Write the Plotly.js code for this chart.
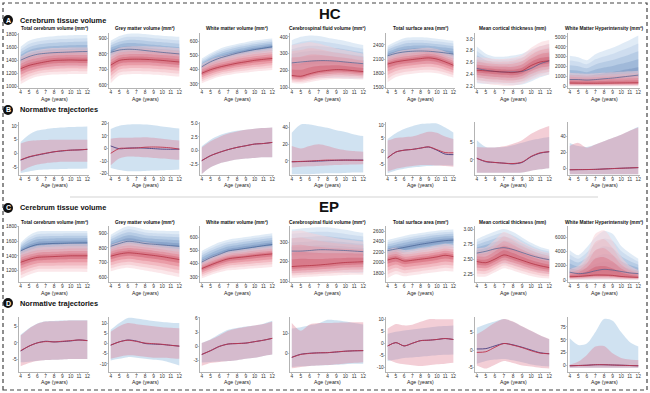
<!DOCTYPE html>
<html><head><meta charset="utf-8">
<script src="https://cdn.plot.ly/plotly-3.0.1.min.js"></script>
<style>html,body{margin:0;padding:0;background:#fff}</style></head>
<body><div id="chart" style="width:650px;height:393px"></div>
<script>
const ages=[4,5,6,7,8,9,10,11,12];
const panelTitles=['Total cerebrum volume (mm³)','Grey matter volume (mm³)','White matter volume (mm³)','Cerebrospinal fluid volume (mm³)','Total surface area (mm²)','Mean cortical thickness (mm)','White Matter Hyperintensity (mm³)'];
const groupTitles=['HC','EP'];
const rowHeaders=[['A','Cerebrum tissue volume'],['B','Normative trajectories'],['C','Cerebrum tissue volume'],['D','Normative trajectories']];
const xLabel='Age (years)';

// ---- Row A: HC centile curves ----
const hcTcv={blueMed:[1405,1460,1495,1510,1520,1525,1530,1535,1537],blueLo:[1200,1240,1270,1285,1290,1295,1300,1300,1300],blueHi:[1610,1700,1740,1760,1770,1780,1785,1788,1790],
 redMed:[1275,1325,1355,1380,1400,1405,1408,1405,1405],redLo:[1040,1110,1155,1175,1185,1190,1195,1195,1195],redHi:[1460,1530,1560,1580,1590,1595,1600,1600,1600]};
const hcGmv={blueMed:[810,825,830,828,822,816,810,805,800],blueLo:[720,735,740,740,735,730,725,720,715],blueHi:[885,915,930,932,928,922,918,914,910],
 redMed:[728,758,765,766,765,762,758,753,748],redLo:[610,660,668,670,668,665,662,658,654],redHi:[810,840,848,850,850,848,845,842,838]};
const hcWmv={blueMed:[420,455,480,498,515,528,540,550,560],blueLo:[360,395,420,435,450,462,472,480,490],blueHi:[478,515,545,565,580,592,603,610,617],
 redMed:[375,400,418,432,445,455,465,472,478],redLo:[305,330,350,362,373,380,388,393,398],redHi:[440,470,490,505,518,528,538,545,552]};
const hcCsf={blueMed:[245,250,255,258,258,255,250,245,240],blueLo:[150,150,152,155,155,155,152,150,150],blueHi:[380,400,408,405,395,385,375,362,352],
 redMed:[170,165,180,193,200,205,203,198,193],redLo:[125,122,130,140,145,148,148,147,145],redHi:[350,360,370,360,345,330,320,310,300]};
const hcTsa={blueMed:[2170,2220,2250,2265,2270,2265,2250,2230,2205],blueLo:[1900,1960,1990,2000,2000,1995,1985,1970,1950],blueHi:[2380,2470,2540,2560,2560,2550,2530,2510,2485],
 redMed:[1995,2040,2068,2090,2110,2125,2100,2040,1970],redLo:[1610,1720,1770,1790,1810,1815,1800,1760,1710],redHi:[2180,2250,2290,2310,2330,2340,2310,2260,2200]};
const hcMct={blueMed:[2.50,2.47,2.45,2.44,2.44,2.45,2.50,2.58,2.63],blueLo:[2.25,2.24,2.24,2.23,2.22,2.23,2.28,2.35,2.40],blueHi:[2.87,2.75,2.70,2.70,2.72,2.75,2.82,2.88,2.92],
 redMed:[2.47,2.46,2.45,2.44,2.43,2.46,2.55,2.61,2.63],redLo:[2.27,2.24,2.22,2.21,2.21,2.24,2.31,2.37,2.40],redHi:[2.70,2.68,2.66,2.66,2.68,2.73,2.85,2.94,2.98]};
const hcWmh={blueMed:[700,700,650,700,780,850,950,1050,1150],blueLo:[50,50,50,50,50,60,70,80,90],blueHi:[3100,2950,2650,3250,3600,3900,4300,4700,5150],
 redMed:[350,340,330,330,340,350,360,370,380],redLo:[20,20,20,20,20,20,20,20,20],redHi:[1400,1350,1300,1350,1400,1450,1500,1550,1600]};

// ---- Row C: EP centile curves ----
const epTcv={blueMed:[1467,1520,1556,1565,1570,1572,1575,1577,1578],blueLo:[1250,1290,1330,1340,1345,1345,1350,1350,1350],blueHi:[1580,1680,1733,1740,1742,1742,1742,1742,1742],
 redMed:[1311,1350,1378,1385,1390,1395,1400,1400,1400],redLo:[1089,1140,1178,1180,1180,1180,1180,1180,1178],redHi:[1470,1510,1540,1550,1555,1560,1565,1565,1565]};
const epGmv={blueMed:[811,830,845,840,830,825,820,815,811],blueLo:[720,740,750,745,738,732,728,725,720],blueHi:[890,925,948,940,925,920,918,916,915],
 redMed:[743,758,766,762,755,748,740,730,720],redLo:[640,655,663,655,645,635,625,612,600],redHi:[820,840,850,845,838,830,822,815,808]};
const epWmv={blueMed:[412,445,470,495,505,515,525,535,544],blueLo:[340,370,395,410,420,430,440,448,455],blueHi:[495,530,560,580,590,600,610,620,629],
 redMed:[363,390,415,436,445,452,460,467,473],redLo:[290,315,335,350,355,360,365,370,375],redHi:[420,450,475,495,505,512,520,528,535]};
const epCsf={blueMed:[255,255,258,262,262,260,258,255,252],blueLo:[140,140,142,145,145,145,143,142,140],blueHi:[367,372,376,378,378,372,365,357,350],
 redMed:[175,178,180,183,187,192,196,198,200],redLo:[117,120,122,125,127,129,131,132,133],redHi:[358,362,350,340,330,322,315,310,305]};
const epTsa={blueMed:[2231,2260,2290,2320,2350,2375,2400,2420,2431],blueLo:[1980,2010,2040,2070,2100,2130,2150,2170,2180],blueHi:[2431,2470,2510,2540,2565,2590,2610,2625,2631],
 redMed:[2050,2085,2030,2045,2065,2085,2110,2140,2115],redLo:[1706,1780,1740,1760,1780,1800,1820,1840,1831],redHi:[2250,2290,2240,2250,2280,2300,2330,2360,2340]};
const epMct={blueMed:[2.60,2.63,2.67,2.69,2.66,2.61,2.56,2.52,2.49],blueLo:[2.35,2.37,2.40,2.42,2.40,2.36,2.32,2.28,2.25],blueHi:[2.83,2.90,2.96,3.00,2.95,2.86,2.77,2.70,2.66],
 redMed:[2.46,2.44,2.50,2.57,2.53,2.48,2.43,2.39,2.36],redLo:[2.21,2.21,2.28,2.35,2.31,2.26,2.22,2.19,2.18],redHi:[2.68,2.70,2.82,2.95,2.88,2.78,2.70,2.64,2.60]};
const epWmh={blueMed:[1100,900,1000,1300,1500,1400,1200,1000,900],blueLo:[80,60,60,80,100,90,80,70,60],blueHi:[4200,3500,4600,6000,6900,6500,4800,3800,3000],
 redMed:[460,500,600,700,700,650,500,420,370],redLo:[40,40,50,60,60,50,40,40,30],redHi:[1600,2000,3500,6500,7000,5500,3300,2000,1400]};

// ---- Row B: HC normative trajectories ----
const hcNTcv={blueHi:[4.2,6.8,8.3,8.8,9.2,9.4,9.6,9.7,9.8],blueLo:[-7.1,-6.5,-6.0,-5.8,-5.7,-5.6,-5.5,-5.5,-5.4],redHi:[3.6,4.5,4.8,4.9,5.0,5.0,5.0,5.0,5.0],redLo:[-6.5,-5.0,-4.0,-3.5,-3.2,-3.0,-3.0,-3.0,-3.0],
 blueLine:[-2.4,-1.3,-0.6,0.0,0.6,0.9,1.2,1.3,1.5],redLine:[-2.3,-1.2,-0.5,0.1,0.6,1.0,1.2,1.3,1.5]};
const hcNGmv={blueHi:[15.4,18,19,19.2,19,18.5,17.5,16.7,15.9],blueLo:[-15.4,-17,-18,-18,-17.8,-17.5,-17.2,-17,-16.7],redHi:[7.7,8.5,8.5,8.7,9,8.5,7.8,7,6.4],redLo:[-13.3,-8,-6.4,-6.5,-7,-7.5,-8,-8.5,-9],
 blueLine:[2,-0.2,0.3,0.5,0.3,-0.1,-0.5,-0.6,-0.5],redLine:[-3.8,0,0.2,0.4,1.0,1.2,1.0,0.5,-0.5]};
const hcNWmv={blueHi:[0.8,2.0,2.8,3.3,3.6,3.8,4.0,4.1,4.2],blueLo:[-4.2,-3.0,-2.3,-1.9,-1.6,-1.4,-1.3,-1.2,-1.2],redHi:[0.6,1.7,2.5,3.1,3.5,3.8,4.0,4.1,4.2],redLo:[-4.2,-3.0,-2.3,-1.9,-1.6,-1.4,-1.3,-1.2,-1.2],
 blueLine:[-1.8,-0.9,-0.3,0.2,0.6,0.9,1.2,1.3,1.5],redLine:[-1.8,-0.9,-0.3,0.2,0.6,0.9,1.2,1.3,1.5]};
const hcNCsf={blueHi:[34,44,44,42,40,37,35,32,30],blueLo:[-16,-16,-16,-15.5,-15,-15,-14.5,-14,-14],redHi:[18,15,18,20,18,15,13,12,11],redLo:[-8,-7,-6.5,-6,-5.5,-5,-4.5,-4.2,-4],
 blueLine:[-1,-0.8,-0.5,-0.2,0.3,0.7,1,1,1],redLine:[-1,-0.6,-0.2,0.5,1,1,1,0.9,0.8]};
const hcNTsa={blueHi:[4.6,6.8,8.4,9.5,10.3,10.5,10.5,9,7.1],blueLo:[-8.5,-7.5,-6.8,-6.3,-6,-5.8,-5.6,-5.5,-5.6],redHi:[4,5,5.3,5.5,6.5,7.4,7,5.5,4.6],redLo:[-7.9,-6.8,-6.2,-5.8,-5.4,-5.4,-5.6,-5.8,-6],
 blueLine:[-2.6,-0.4,0.3,0.6,1.1,1.5,0.3,-1.2,-1.4],redLine:[-2.6,-0.4,0.3,0.6,1.1,1.6,0.5,-0.6,-0.7]};
const hcNMct={blueHi:[5.5,3.6,3.5,3.6,4.1,4.8,5.5,6.0,6.4],blueLo:[-3.6,-3.6,-3.6,-3.6,-3.6,-3.5,-3.0,-2.6,-2.3],redHi:[3.6,3.5,3.5,3.8,4.5,5.5,7.3,8.6,9.5],redLo:[-3.6,-3.6,-3.6,-3.6,-3.6,-3.5,-3.0,-2.6,-2.3],
 blueLine:[0.5,-0.5,-0.7,-0.9,-1.1,-0.7,0.9,1.9,2.3],redLine:[0.4,-0.4,-0.7,-0.9,-1.0,-0.6,1.0,2.0,2.3]};
const hcNWmh={blueHi:[32,28,27,30,34,38,42,47,52],blueLo:[-7,-7,-7,-7,-7,-7,-7,-7,-7],redHi:[28,32,26,30,34,38,42,47,51],redLo:[-7,-7,-7,-7,-7,-7,-7,-7,-7],
 blueLine:[-1.5,-1.3,-1.2,-1,-0.5,0,0.4,0.8,1.2],redLine:[-1.5,-1.3,-1.2,-1,-0.5,0,0.4,0.8,1.2]};

// ---- Row D: EP normative trajectories ----
const epNTcv={blueHi:[2.5,4.5,6,6.7,6.8,6.9,7,7,7],blueLo:[-6,-5.8,-5.5,-5.3,-5.2,-5.1,-5,-5,-5],redHi:[2.3,4.4,5.9,6.6,6.7,6.8,6.9,6.9,6.9],redLo:[-7.2,-6.2,-5.6,-5.3,-5.2,-5.1,-5,-5,-5],
 blueLine:[-2.5,-1,0,0.5,0.3,0.4,0.6,0.9,0.7],redLine:[-2.4,-1,0,0.4,0.3,0.5,0.7,0.9,0.7]};
const epNGmv={blueHi:[6.7,10,12.5,12.3,11.7,11,10.5,10.2,10],blueLo:[-8.3,-7.5,-6.7,-7,-7.5,-8,-8.3,-9.5,-10.8],redHi:[5.8,8.5,10,9.5,9,8.5,8,7.7,7.5],redLo:[-7.5,-6.5,-5.8,-6,-6.5,-7,-7,-7.2,-7.5],
 blueLine:[-0.8,0.8,1.7,1.2,0,-0.3,-0.5,-0.9,-1.3],redLine:[-0.8,0.8,1.6,1.0,0.2,-0.1,-0.4,-0.9,-1.3]};
const epNWmv={blueHi:[0.7,1.5,2.6,3.5,3.9,4.2,4.4,4.8,5.4],blueLo:[-3.4,-3.3,-3.2,-3.1,-2.9,-2.6,-2.4,-2,-1.7],redHi:[0.7,1.4,2.3,3.3,3.8,4.1,4.4,4.7,5.2],redLo:[-4.1,-3.5,-3.3,-3.1,-2.9,-2.6,-2.4,-2,-1.7],
 blueLine:[-1.7,-0.9,0,0.5,0.6,0.7,1,1.3,1.7],redLine:[-1.7,-0.9,0,0.5,0.6,0.7,1,1.3,1.7]};
const epNCsf={blueHi:[12.3,13,14,14.8,16.6,16.4,15.8,15,14.3],blueLo:[-6.5,-6.2,-6,-5.8,-5.7,-5.5,-5.2,-5,-4.9],redHi:[15,11.2,14.3,15,15,15.2,15.3,15.4,15.4],redLo:[-7.2,-6.5,-6,-5.8,-5.6,-5.2,-4.8,-4.5,-4.2],
 blueLine:[-1.8,-0.3,0.2,0.4,0.5,0.8,1.2,1.4,1.5],redLine:[-1.8,-0.4,0.1,0.4,0.5,0.9,1.2,1.4,1.5]};
const epNTsa={blueHi:[4,4.8,5.4,5.8,6.2,6.6,7,7.2,7.4],blueLo:[-7.4,-6.8,-6.1,-5.9,-5.6,-5.3,-5,-4.8,-4.7],redHi:[6.1,8.1,7.5,7.8,9,10.1,10.1,10.1,10.1],redLo:[-6.8,-8.1,-8.8,-9.2,-9.5,-9.2,-8.8,-8.5,-8.1],
 blueLine:[-1.1,0.3,-1.1,0,1.1,1.3,1.6,2,1.6],redLine:[-1.1,0.3,-1.1,0,1.1,1.3,1.6,2,1.6]};
const epNMct={blueHi:[6.5,7.5,8.3,9,8.2,6.8,5.5,4.2,3.1],blueLo:[-4,-3.2,-2.8,-2.6,-3,-3.6,-4.2,-4.6,-4.8],redHi:[4.6,6.2,7.9,9,8.3,6.9,5.6,4.3,3.2],redLo:[-4.5,-5.4,-4.3,-3.2,-3.8,-4.5,-4.8,-5.2,-5.4],
 blueLine:[0.3,0.4,1.2,1.9,1.5,0.8,0,-0.8,-1.1],redLine:[-0.7,-0.5,0.8,1.9,1.4,0.7,-0.2,-0.9,-1.1]};
const epNWmh={blueHi:[53,40,43,65,90,87,65,46,37],blueLo:[-4,-4,-4,-4,-4,-4,-4,-4,-4],redHi:[2,8,21,37,38,24,15,12,11],redLo:[-4,-4,-4,-4,-4,-4,-4,-4,-4],
 blueLine:[0,0.5,1,2,2,1.5,1,0.5,0],redLine:[0,0.5,1,2,2,1.5,1,0.5,0]};

const rowA=[hcTcv,hcGmv,hcWmv,hcCsf,hcTsa,hcMct,hcWmh];
const rowB=[hcNTcv,hcNGmv,hcNWmv,hcNCsf,hcNTsa,hcNMct,hcNWmh];
const rowC=[epTcv,epGmv,epWmv,epCsf,epTsa,epMct,epWmh];
const rowD=[epNTcv,epNGmv,epNWmv,epNCsf,epNTsa,epNMct,epNWmh];

// axis tick values
const rowATicks=[[1000,1200,1400,1600,1800],[600,700,800,900],[300,400,500,600],[100,200,300,400],[1500,1800,2100,2400],[2.2,2.4,2.6,2.8,3.0],[0,1000,2000,3000,4000,5000]];
const rowBTicks=[[-5,0,5,10],[-20,-10,0,10,20],[-2.5,0,2.5,5],[0,20,40],[-5,0,5,10],[0,5],[0,20,40]];
const rowCTicks=[[1200,1400,1600,1800],[600,700,800,900],[300,400,500,600],[100,200,300],[1800,2000,2200,2400,2600],[2.25,2.5,2.75,3.0],[0,2000,4000,6000]];
const rowDTicks=[[-5,0,5],[-10,-5,0,5,10],[-3,0,3,6],[0,10],[-10,-5,0,5,10],[-5,0,5],[0,25,50,75]];

// layout geometry (px)
const W=650,H=393;
const rowYRanges=[
 [[980,1820],[580,935],[272,656],[95,423],[1490,2650],[2.17,3.1],[-150,5400]],
 [[-7.8,11.4],[-21,21],[-4.4,5.2],[-17,47],[-9.2,11.1],[-4.2,10.6],[-8,58]],
 [[1040,1810],[566,950],[262,683],[95,385],[1630,2700],[2.12,3.05],[-280,7600]],
 [[-9,8],[-14,13],[-5.4,6.2],[-9,18],[-12,11],[-6.4,9.6],[-12,94]]];
const colPx=[[19,89],[109,181],[200,274],[290,365],[386,455],[475,551],[568,640]];
const rowPx=[[33,88],[122,175],[226,282],[317,372]];
const rowTitleY=[29,null,222,null];
const rowAgeY=[99,185,293,382];
const rowHeaderY=[20,110,208,303];

const FONT='Liberation Sans, Arial, sans-serif';
const fx=p=>p/W, fy=p=>1-p/H;

const fracs=[1,0.8,0.6,0.4,0.2];
const blueShades=['rgba(204,222,240,0.6)','rgba(176,200,228,0.38)','rgba(148,176,212,0.38)','rgba(124,154,196,0.38)','rgba(104,134,182,0.38)'];
const redShades=['rgba(248,208,214,0.5)','rgba(242,174,184,0.36)','rgba(232,140,154,0.36)','rgba(218,106,122,0.36)','rgba(202,76,94,0.36)'];

const traces=[];const layout={width:W,height:H,margin:{l:0,r:0,t:0,b:0},paper_bgcolor:'#fff',plot_bgcolor:'rgba(0,0,0,0)',showlegend:false,
 font:{family:FONT,color:'#222'},annotations:[],shapes:[]};

function band(xa,ya,lo,hi,color){
  traces.push({x:ages,y:lo,xaxis:xa,yaxis:ya,mode:'lines',line:{width:0,shape:'spline',smoothing:0.8},hoverinfo:'skip'});
  traces.push({x:ages,y:hi,xaxis:xa,yaxis:ya,mode:'lines',fill:'tonexty',fillcolor:color,line:{width:0,shape:'spline',smoothing:0.8},hoverinfo:'skip'});
}
function line(xa,ya,y,color,w){
  traces.push({x:ages,y:y,xaxis:xa,yaxis:ya,mode:'lines',line:{width:w,color:color,shape:'spline',smoothing:0.8},hoverinfo:'skip'});
}
const rows=[rowA,rowB,rowC,rowD];
const rowTicks=[rowATicks,rowBTicks,rowCTicks,rowDTicks];
const tickTexts={'0-5':['2.2','2.4','2.6','2.8','3.0'],'1-2':['-2.5','0.0','2.5','5.0'],'2-5':['2.25','2.50','2.75','3.00']};

let n=0;
rows.forEach((row,r)=>{
  row.forEach((d,c)=>{
    n++;
    const xa='x'+(n===1?'':n), ya='y'+(n===1?'':n);
    const xk='xaxis'+(n===1?'':n), yk='yaxis'+(n===1?'':n);
    const base={showline:true,linecolor:'#a0a0a0',linewidth:0.8,ticks:'outside',ticklen:1.5,tickwidth:0.6,tickcolor:'#a0a0a0',
      showgrid:false,zeroline:false,tickfont:{size:4.8,family:FONT,color:'#333'},fixedrange:true};
    layout[xk]=Object.assign({},base,{domain:[fx(colPx[c][0]),fx(colPx[c][1])],anchor:ya,range:[3.8,12.2],tickmode:'array',tickvals:ages,ticktext:ages.map(String),ticklabelstandoff:-2});
    const tv=rowTicks[r][c];
    const tt=tickTexts[r+'-'+c]||tv.map(v=>String(v));
    layout[yk]=Object.assign({},base,{domain:[fy(rowPx[r][1]),fy(rowPx[r][0])],anchor:xa,range:rowYRanges[r][c],tickmode:'array',tickvals:tv,ticktext:tt,ticklabelstandoff:-1});
    if(r===0||r===2){
      fracs.forEach((f,k)=>{
        band(xa,ya,d.blueMed.map((m,i)=>m-f*(m-d.blueLo[i])),d.blueMed.map((m,i)=>m+f*(d.blueHi[i]-m)),blueShades[k]);
      });
      fracs.forEach((f,k)=>{
        band(xa,ya,d.redMed.map((m,i)=>m-f*(m-d.redLo[i])),d.redMed.map((m,i)=>m+f*(d.redHi[i]-m)),redShades[k]);
      });
      line(xa,ya,d.blueMed,'rgba(60,88,140,0.8)',0.8);
      line(xa,ya,d.redMed,'rgba(170,35,52,0.8)',0.8);
      layout.annotations.push({xref:'paper',yref:'paper',x:fx((colPx[c][0]+colPx[c][1])/2),y:fy(rowTitleY[r]),text:'<b>'+panelTitles[c]+'</b>',
        showarrow:false,xanchor:'center',yanchor:'middle',font:{size:4.8,family:FONT,color:'#111'}});
    } else {
      band(xa,ya,d.blueLo,d.blueHi,'rgba(176,207,232,0.6)');
      band(xa,ya,d.redLo,d.redHi,'rgba(222,120,140,0.36)');
      line(xa,ya,d.blueLine,'#4a4080',0.9);
      line(xa,ya,d.redLine,'#c0344c',0.9);
    }
    layout.annotations.push({xref:'paper',yref:'paper',x:fx((colPx[c][0]+colPx[c][1])/2),y:fy(rowAgeY[r]),text:xLabel,
      showarrow:false,xanchor:'center',yanchor:'middle',font:{size:5.2,family:FONT,color:'#222'}});
  });
});

// row headers
rowHeaders.forEach((h,r)=>{
  const cy=rowHeaderY[r];
  layout.shapes.push({type:'circle',xref:'paper',yref:'paper',x0:fx(3),x1:fx(13),y0:fy(cy+5),y1:fy(cy-5),fillcolor:'#111',line:{width:0}});
  layout.annotations.push({xref:'paper',yref:'paper',x:fx(8),y:fy(cy),text:'<b>'+h[0]+'</b>',showarrow:false,xanchor:'center',yanchor:'middle',font:{size:7,family:FONT,color:'#fff'}});
  layout.annotations.push({xref:'paper',yref:'paper',x:fx(18),y:fy(cy),text:'<b>'+h[1]+'</b>',showarrow:false,xanchor:'left',yanchor:'middle',font:{size:7.4,family:FONT,color:'#111'}});
});
// group titles
layout.annotations.push({xref:'paper',yref:'paper',x:fx(330),y:fy(13),text:'<b>'+groupTitles[0]+'</b>',showarrow:false,xanchor:'center',yanchor:'middle',font:{size:15,family:FONT,color:'#111'}});
layout.annotations.push({xref:'paper',yref:'paper',x:fx(329),y:fy(206),text:'<b>'+groupTitles[1]+'</b>',showarrow:false,xanchor:'center',yanchor:'middle',font:{size:15,family:FONT,color:'#111'}});
// border and separator
layout.shapes.push({type:'rect',xref:'paper',yref:'paper',x0:fx(3),x1:fx(647),y0:fy(390),y1:fy(3),line:{color:'#444',width:1.2,dash:'4px,3px'},fillcolor:'rgba(0,0,0,0)'});
layout.shapes.push({type:'line',xref:'paper',yref:'paper',x0:fx(70),x1:fx(598),y0:fy(197),y1:fy(197),line:{color:'#c8c8c8',width:0.8}});

Plotly.newPlot('chart',traces,layout,{staticPlot:true,displayModeBar:false});
</script></body></html>
